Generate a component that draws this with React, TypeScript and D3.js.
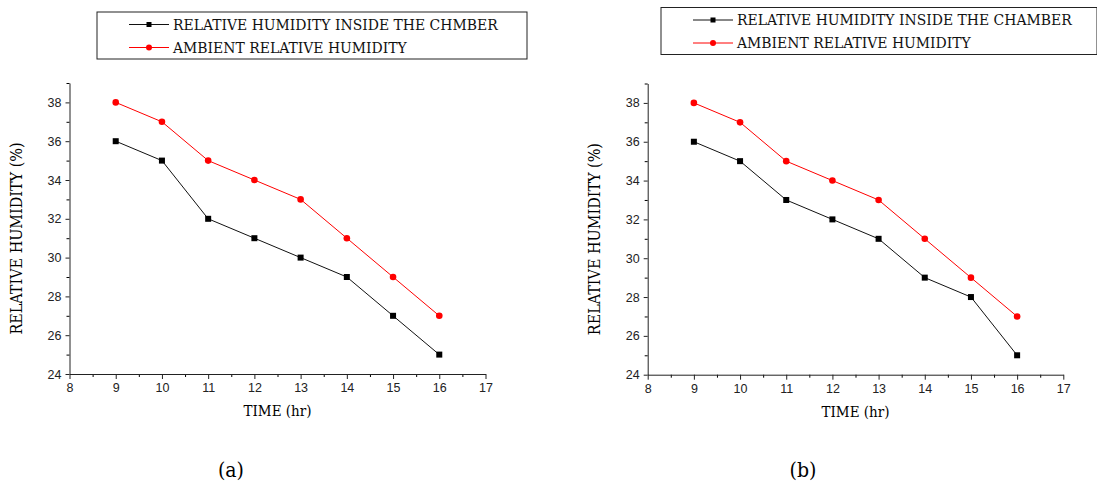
import React, { useEffect, useRef } from "react";
import * as d3 from "d3";

const width = 1097;
const height = 486;

const hours = [9, 10, 11, 12, 13, 14, 15, 16];
const insideA = [36, 35, 32, 31, 30, 29, 27, 25];
const ambientA = [38, 37, 35, 34, 33, 31, 29, 27];
const insideB = [36, 35, 33, 32, 31, 29, 28, 25];
const ambientB = [38, 37, 35, 34, 33, 31, 29, 27];
const xTicks = [8, 9, 10, 11, 12, 13, 14, 15, 16, 17];
const yTicks = [24, 26, 28, 30, 32, 34, 36, 38];

const panels = [
    {
        id: "a", left: 69.5, top: 83, bottom: 374, right: 485.5,
        inside: insideA, ambient: ambientA,
        legend: { x: 97, y: 12, w: 430, h: 47, label: "RELATIVE HUMIDITY INSIDE THE CHMBER" },
        caption: { x: 231, y: 477 },
    },
    {
        id: "b", left: 647.7, top: 83.5, bottom: 374.7, right: 1063.3,
        inside: insideB, ambient: ambientB,
        legend: { x: 661, y: 7.5, w: 436, h: 47, label: "RELATIVE HUMIDITY INSIDE THE CHAMBER" },
        caption: { x: 803, y: 477 },
    },
];

const serif = "'DejaVu Serif Condensed', 'DejaVu Serif', serif";
const sans = "'Liberation Sans', Arial, sans-serif";

const App = () => {
    const ref = useRef<SVGSVGElement>(null);

    const chart = () => {
        const svg = d3.select(ref.current);
        svg.selectAll("*").remove();
        svg.attr("width", width).attr("height", height).attr("viewBox", [0, 0, width, height] as any);

        svg.append("rect").attr("width", width).attr("height", height).attr("fill", "white");

        panels.forEach(p => {
            const g = svg.append("g");
            const x = d3.scaleLinear([8, 17], [p.left, p.right]);
            const y = d3.scaleLinear([24, 39], [p.bottom, p.top]);

            // minor ticks
            g.append("g")
                .attr("transform", `translate(0,${p.bottom})`)
                .call(d3.axisBottom(x).tickValues(d3.range(8.5, 17, 1)).tickSize(3).tickFormat(() => "").tickSizeOuter(0))
                .call(a => a.select(".domain").remove());
            g.append("g")
                .attr("transform", `translate(${p.left},0)`)
                .call(d3.axisLeft(y).tickValues(d3.range(25, 40, 2)).tickSize(3).tickFormat(() => "").tickSizeOuter(0))
                .call(a => a.select(".domain").remove());

            const xa = g.append("g")
                .attr("transform", `translate(0,${p.bottom})`)
                .call(d3.axisBottom(x).tickValues(xTicks).tickSize(5).tickPadding(4).tickSizeOuter(0));
            const ya = g.append("g")
                .attr("transform", `translate(${p.left},0)`)
                .call(d3.axisLeft(y).tickValues(yTicks).tickSize(4).tickPadding(4).tickSizeOuter(0));
            [xa, ya].forEach(a => {
                a.attr("font-family", null).attr("font-size", null);
                a.selectAll("text").style("font-family", sans).style("font-size", "12.5px").attr("fill", "#222");
                a.selectAll("line,path").attr("stroke", "#222");
            });

            const line = d3.line<number>().x((_, i) => x(hours[i])).y(d => y(d));

            g.append("path").datum(p.ambient).attr("fill", "none").attr("stroke", "#ff0000").attr("stroke-width", 1).attr("d", line);
            g.append("path").datum(p.inside).attr("fill", "none").attr("stroke", "#111").attr("stroke-width", 1).attr("d", line);

            g.selectAll(".amb").data(p.ambient).join("circle")
                .attr("cx", (_, i) => x(hours[i])).attr("cy", d => y(d)).attr("r", 3.3).attr("fill", "#ff0000");
            g.selectAll(".ins").data(p.inside).join("rect")
                .attr("x", (_, i) => x(hours[i]) - 3).attr("y", d => y(d) - 3)
                .attr("width", 6).attr("height", 6).attr("fill", "#000");

            // axis titles
            g.append("text")
                .attr("transform", `translate(${p.left - 48},${(p.top + p.bottom) / 2 + 10}) rotate(-90)`)
                .attr("text-anchor", "middle").style("font-family", serif).style("font-size", "16px")
                .text("RELATIVE HUMIDITY (%)");
            g.append("text")
                .attr("x", (p.left + p.right) / 2).attr("y", p.bottom + 42)
                .attr("text-anchor", "middle").style("font-family", serif).style("font-size", "15px")
                .text("TIME (hr)");
            g.append("text")
                .attr("x", p.caption.x).attr("y", p.caption.y)
                .attr("text-anchor", "middle").style("font-family", serif).style("font-size", "21px")
                .text(`(${p.id})`);

            // legend
            const L = p.legend;
            const lg = g.append("g").attr("transform", `translate(${L.x},${L.y})`);
            lg.append("rect").attr("width", L.w).attr("height", L.h).attr("fill", "white").attr("stroke", "#222").attr("stroke-width", 1);
            const rows = [
                { label: L.label, color: "#111", shape: "square" },
                { label: "AMBIENT RELATIVE HUMIDITY", color: "#ff0000", shape: "circle" },
            ];
            rows.forEach((r, i) => {
                const cy = 12.5 + i * 23;
                lg.append("line").attr("x1", 32).attr("x2", 72).attr("y1", cy).attr("y2", cy).attr("stroke", r.color);
                if (r.shape === "square") {
                    lg.append("rect").attr("x", 49.5).attr("y", cy - 2.5).attr("width", 5).attr("height", 5).attr("fill", "#000");
                } else {
                    lg.append("circle").attr("cx", 52).attr("cy", cy).attr("r", 3).attr("fill", r.color);
                }
                lg.append("text").attr("x", 76).attr("y", cy + 5).style("font-family", serif).style("font-size", "15.5px")
                    .attr("fill", "#111").text(r.label);
            });
        });
    };

    useEffect(() => {
        chart();
    }, []);

    return (
        <div style={{ position: "absolute", left: 0, top: 0 }}>
            <svg ref={ref} style={{ display: "block" }} />
        </div>
    );
};

export default App;
